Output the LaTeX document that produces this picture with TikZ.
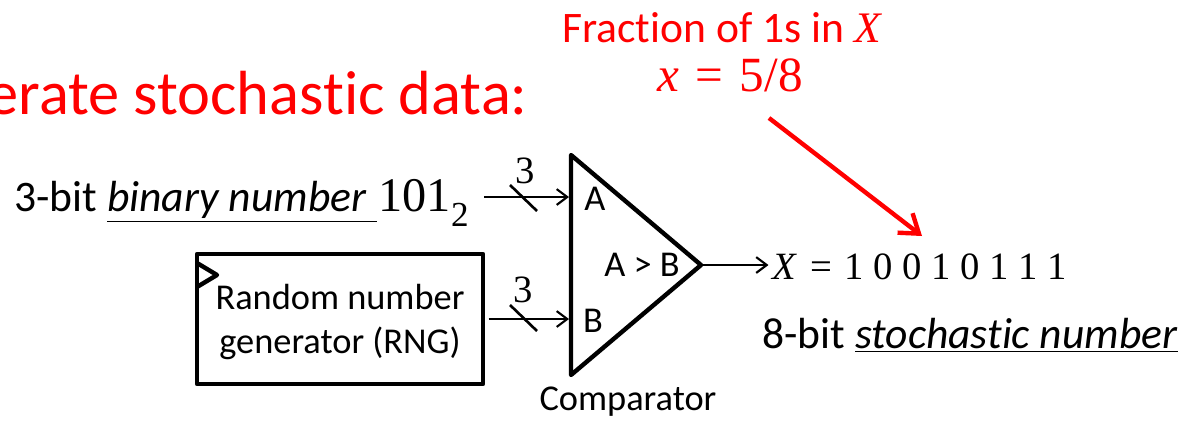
\documentclass[tikz,border=0pt]{standalone}
\usepackage{fontspec}
\setmainfont[Ligatures=NoCommon]{Carlito}
\newfontfamily\mathfont{Liberation Serif}
\usetikzlibrary{positioning,arrows.meta}
\definecolor{accent}{HTML}{FF0000}
\newcommand{\tsize}[1]{\fontsize{#1}{#1}\selectfont}

\begin{document}
\begin{tikzpicture}[
        x=0.02cm,
        y=-0.02cm,
        label/.style={
            inner sep=0pt,
            align=center
        },
        body/.style={
            label,
            font=\tsize{24.8pt}
        },
        small/.style={
            label,
            font=\tsize{20.7pt}
        },
        formula/.style={
            label,
            font=\mathfont\tsize{22pt}
        },
        block/.style={
            draw,
            line width=2.5pt,
            line join=round
        },
        wire/.style={
            -{Straight Barb[length=6pt,width=9pt]},
            line width=1.2pt
        },
        tick/.style={
            line width=1.5pt
        },
        callout/.style={
            -{Straight Barb[length=10pt,width=14pt]},
            line width=2.5pt,
            accent
        }
    ]
    \useasboundingbox (0,0) rectangle (1194,420);

    \node[label, accent, anchor=east, font=\tsize{35.5pt}] (title) at (528,93) {erate stochastic data:};
    \node[body, accent, anchor=west] (frac) at (562,28) {Fraction of 1s in {\mathfont\itshape X}};
    \node[formula, accent, font=\mathfont\tsize{28pt}] (fval) at (730,75) {\textit{x}\,\,=\,\,5/8};

    % Inputs on the left
    \node[body, anchor=west] (bin) at (14,203) {3-bit \underline{\textit{binary number}\,\hspace{1.7pt}}\hspace{1pt}{\mathfont\tsize{27.5pt}101\raisebox{-0.3em}{\tsize{20pt}2}}};
    \node[block, minimum width=5.72cm, minimum height=2.6cm] (rng) at (340,319) {};
    \node[small] (rngtext) at (rng.center) [yshift=-1.7pt] {Random number\\[4.3pt]generator (RNG)};
    \draw[block] (197,263) -- (217,275) -- (197,287);

    % Comparator
    \coordinate (top) at (571,155);
    \coordinate (bot) at (571,375);
    \coordinate (tip) at (701,265);
    \draw[block] (top) -- (tip) -- (bot) -- cycle;
    \coordinate (ina) at (569,197);
    \coordinate (inb) at (569,319);
    \coordinate (src) at (484,197);
    \node[small] (porta) at (595,199) {A};
    \node[small] (portb) at (593,321) {B};
    \node[small] (cmp) at (642,265) {A > B};
    \node[small] (cmpname) at (628,402) {Comparator};

    % Wires and their bus ticks
    \draw[wire] (src) -- (ina);
    \draw[wire] ([xshift=2pt]rng.east |- inb) -- (inb);
    \draw[tick] (510,185) -- (537,211);
    \draw[tick] (510,305) -- (537,331);
    \node[formula] (widtha) at (525,171) {3};
    \node[formula] (widthb) at (523,290) {3};

    % Output
    \node[formula, anchor=west] (bits) at (772,267) {\textit{X}\,\,=\,\,1 0 0 1 0 1 1 1};
    \draw[wire] (tip) -- ([xshift=-2pt]bits.west |- tip);
    \node[body, anchor=west] (stoch) at (762,335) {8-bit \underline{\textit{stochastic number}}};

    \coordinate (from) at (769,118);
    \coordinate (to) at (922,236);
    \draw[callout] (from) -- (to);

\end{tikzpicture}
\end{document}
